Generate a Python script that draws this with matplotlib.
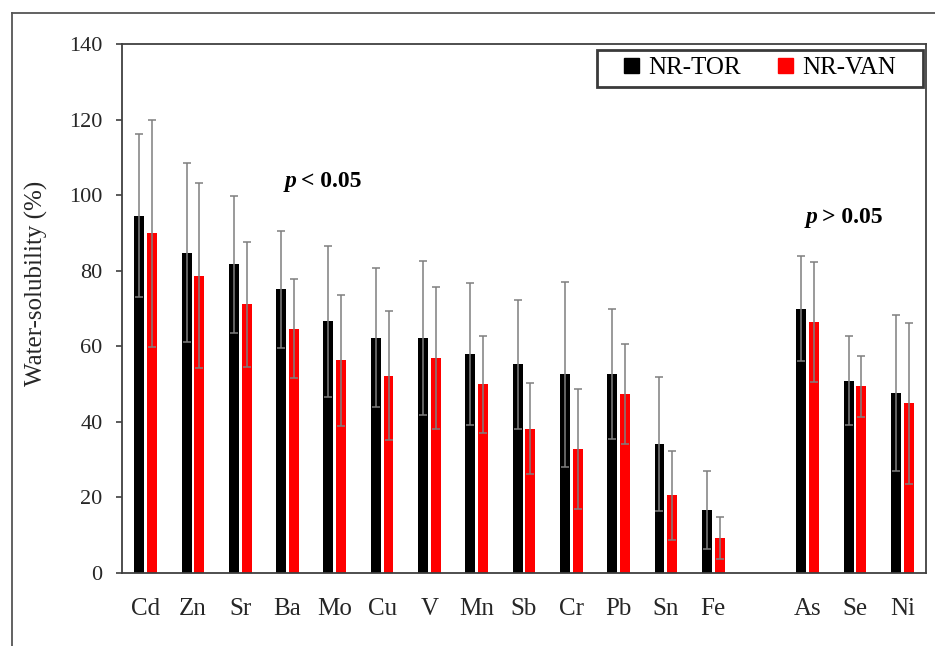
import numpy as np
import matplotlib
matplotlib.use("Agg")
import matplotlib.pyplot as plt
from matplotlib.patches import Patch, Rectangle
from matplotlib.lines import Line2D

plt.rcParams["font.family"] = ["Liberation Serif", "DejaVu Serif"]

# data
elements = ["Cd", "Zn", "Sr", "Ba", "Mo", "Cu", "V", "Mn", "Sb", "Cr", "Pb", "Sn", "Fe", "As", "Se", "Ni"]
tor = [94.6, 84.8, 81.7, 75.1, 66.6, 62.3, 62.2, 58.0, 55.2, 52.6, 52.7, 34.1, 16.7, 70.0, 50.9, 47.7]
tor_err = [21.6, 23.7, 18.2, 15.5, 20.0, 18.4, 20.5, 18.8, 17.0, 24.5, 17.3, 17.8, 10.4, 13.8, 11.8, 20.6]
van = [89.9, 78.7, 71.1, 64.7, 56.3, 52.2, 56.9, 49.9, 38.2, 32.8, 47.4, 20.6, 9.3, 66.4, 49.4, 44.9]
van_err = [30.0, 24.4, 16.5, 13.1, 17.4, 17.1, 18.9, 12.8, 12.0, 15.9, 13.3, 11.8, 5.6, 15.9, 8.0, 21.3]
series_names = ["NR-TOR", "NR-VAN"]
n_signif = 13  # first 13 elements p < 0.05, rest p > 0.05

# positions: one empty slot between the two groups
x = np.arange(len(elements), dtype=float)
x[n_signif:] += 1

dpi = 100
fig = plt.figure(figsize=(935 / dpi, 646 / dpi), dpi=dpi)
ax = fig.add_axes([122 / 935, 1 - 573 / 646, 804 / 935, 529 / 646])

w = 0.21
off = 0.135
err_kw = dict(ecolor="#7f7f7f", elinewidth=1.1, capsize=3.2, capthick=1.1)
ax.bar(x - off, tor, w, color="#000000", yerr=tor_err, error_kw=err_kw, zorder=2)
ax.bar(x + off, van, w, color="#ff0000", yerr=van_err, error_kw=err_kw, zorder=2)

ax.set_xlim(-0.5, x[-1] + 0.5)
ax.set_ylim(0, 140)
ax.set_yticks(np.arange(0, 141, 20))
ax.set_xticks(x)
ax.set_xticklabels(elements)

for spine in ax.spines.values():
    spine.set_color("#404040")
    spine.set_linewidth(1.3)

ax.tick_params(axis="y", direction="out", length=4, width=1.2, color="#404040",
               labelsize=16, pad=10, labelcolor="#262626")
ax.tick_params(axis="x", length=0, labelsize=18, pad=18, labelcolor="#262626")

ax.set_ylabel("Water-solubility (%)", fontsize=18, color="#262626")
ax.yaxis.set_label_coords(-0.092, 0.548)

# p-value notes
ax.text(3.19, 103.5, "p", fontsize=17, fontweight="bold", fontstyle="italic",
        ha="right", va="center")
ax.text(3.28, 103.5, "< 0.05", fontsize=17, fontweight="bold", ha="left", va="center")
ax.text(14.21, 94.2, "p", fontsize=17, fontweight="bold", fontstyle="italic",
        ha="right", va="center")
ax.text(14.30, 94.2, "> 0.05", fontsize=17, fontweight="bold", ha="left", va="center")

# legend with a hand-made frame
ax.add_patch(Rectangle((0.591, 0.919), 0.405, 0.070, transform=ax.transAxes,
                       facecolor="white", edgecolor="#3a3a3a", linewidth=2, zorder=4))
handles = [Patch(color="#000000"), Patch(color="#ff0000")]
leg = ax.legend(handles, series_names, loc="center", bbox_to_anchor=(0.7935, 0.954),
                ncol=2, frameon=False, fontsize=18, handlelength=0.6, handleheight=0.6,
                handletextpad=0.35, columnspacing=1.5, borderpad=0)
leg.set_zorder(5)

# outer border of the picture (top and left edges)
fig.add_artist(Line2D([12 / 935, 1], [1 - 13 / 646, 1 - 13 / 646], transform=fig.transFigure,
                      color="#555555", linewidth=1.3))
fig.add_artist(Line2D([12 / 935, 12 / 935], [0, 1 - 13 / 646], transform=fig.transFigure,
                      color="#555555", linewidth=1.3))

fig.savefig("out.png", dpi=dpi)
plt.close(fig)
